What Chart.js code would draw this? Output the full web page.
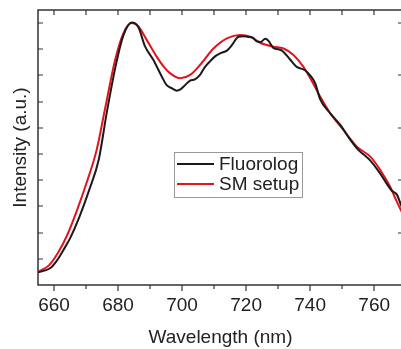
<!DOCTYPE html>
<html>
<head>
<meta charset="utf-8">
<script src="https://cdn.jsdelivr.net/npm/chart.js@4"></script>
<style>
  html, body { margin: 0; padding: 0; background: #fff; }
  #wrap { width: 401px; height: 349px; overflow: hidden; }
</style>
</head>
<body>
<div id="wrap"><canvas id="spectrumChart" width="410" height="349"></canvas></div>
<script>
// Данные спектров
const xTickValues = [660, 680, 700, 720, 740, 760];
const xMinorValues = [670, 690, 710, 730, 750];
const yTickValues = [1, 2, 3, 4, 5, 6, 7, 8, 9, 10];

const fluorologWl = [655, 657, 659, 661, 663, 665, 668, 671, 674, 676.5, 679.5, 681.7, 684.3, 686.3, 688.4, 691, 693.7, 695.2, 697, 698.3, 699.5, 700.5, 702.5, 704, 705.6, 707, 708.8, 710.5, 712, 714, 715.5, 717.6, 719, 720.7, 722, 723.3, 724.5, 726, 727, 728.5, 730, 731.2, 733.8, 735.8, 738.4, 740, 741.6, 743.1, 746.3, 749.4, 752.5, 755.1, 757, 758.8, 761.9, 764, 765.5, 767.1, 768.4, 769];
const fluorologInt = [0.48, 0.55, 0.66, 0.95, 1.35, 1.78, 2.62, 3.63, 4.8, 6.6, 8.5, 9.54, 10.02, 9.86, 9.12, 8.6, 7.95, 7.63, 7.5, 7.42, 7.47, 7.58, 7.8, 7.85, 8.02, 8.3, 8.55, 8.75, 8.85, 8.95, 9.15, 9.48, 9.5, 9.47, 9.45, 9.3, 9.28, 9.4, 9.32, 9.05, 9.0, 8.95, 8.6, 8.33, 8.2, 8.0, 7.7, 7.1, 6.55, 6.11, 5.55, 5.15, 4.95, 4.75, 4.25, 3.85, 3.6, 3.45, 3.05, 2.9];

const smWl = [655, 658.5, 661.2, 664.1, 667.2, 670.3, 673.3, 675.9, 679.1, 681.7, 684.3, 686.3, 689, 692.1, 694.5, 696.3, 699.4, 702.5, 705.6, 709.8, 714, 718.1, 721.3, 724.4, 728.5, 731.7, 734.8, 737.9, 740, 743.1, 746.3, 750.4, 754.6, 758.8, 761.9, 765, 767, 769];
const smInt = [0.5, 0.76, 1.22, 1.9, 2.86, 3.95, 5.15, 6.7, 8.6, 9.62, 10.0, 9.88, 9.35, 8.71, 8.3, 8.08, 7.89, 8.02, 8.4, 9.03, 9.42, 9.55, 9.48, 9.25, 9.1, 9.03, 8.78, 8.33, 7.9, 7.2, 6.55, 5.92, 5.28, 4.9, 4.39, 3.75, 3.2, 2.7];

const axisColor = '#333';
const textColor = '#222';
const fontFamily = '"Liberation Sans", Arial, sans-serif';

function toPoints(xs, ys) {
    return xs.map((x, i) => ({ x: x, y: ys[i] }));
}

// Рамка графика и засечки
const framePlugin = {
    id: 'frame',
    afterDatasetsDraw(chart) {
        const { ctx, chartArea: a, scales: { x, y } } = chart;
        ctx.save();
        ctx.strokeStyle = axisColor;
        ctx.lineWidth = 1.5;
        ctx.strokeRect(a.left, a.top, a.right - a.left, a.bottom - a.top);
        ctx.lineWidth = 1.2;
        ctx.beginPath();
        xTickValues.forEach(v => {
            const px = Math.round(x.getPixelForValue(v));
            ctx.moveTo(px, a.bottom); ctx.lineTo(px, a.bottom + 6);
            ctx.moveTo(px, a.top); ctx.lineTo(px, a.top + 5);
        });
        xMinorValues.forEach(v => {
            const px = Math.round(x.getPixelForValue(v));
            ctx.moveTo(px, a.bottom); ctx.lineTo(px, a.bottom + 4);
            ctx.moveTo(px, a.top); ctx.lineTo(px, a.top + 5);
        });
        yTickValues.forEach(v => {
            const py = Math.round(y.getPixelForValue(v));
            ctx.moveTo(a.left, py); ctx.lineTo(a.left + 5, py);
            if (v % 2 === 0) {
                ctx.moveTo(a.right, py); ctx.lineTo(a.right - 5, py);
            }
        });
        ctx.stroke();
        ctx.restore();
    }
};

// Легенда внутри области графика
const insideLegend = {
    id: 'insideLegend',
    afterDatasetsDraw(chart) {
        const ctx = chart.ctx;
        const box = { left: 174, top: 152, width: 128, height: 45 };
        ctx.save();
        ctx.fillStyle = '#fff';
        ctx.fillRect(box.left, box.top, box.width, box.height);
        ctx.strokeStyle = '#999';
        ctx.lineWidth = 1;
        ctx.strokeRect(box.left + 0.5, box.top + 0.5, box.width, box.height);
        ctx.font = '19px ' + fontFamily;
        ctx.textBaseline = 'middle';
        chart.data.datasets.forEach((ds, i) => {
            const cy = box.top + 12 + i * 20;
            ctx.strokeStyle = ds.borderColor;
            ctx.lineWidth = 2;
            ctx.beginPath();
            ctx.moveTo(box.left + 3, cy);
            ctx.lineTo(box.left + 40, cy);
            ctx.stroke();
            ctx.fillStyle = textColor;
            ctx.fillText(ds.label, box.left + 45, cy + 1);
        });
        ctx.restore();
    }
};

const ctx = document.getElementById('spectrumChart').getContext('2d');
new Chart(ctx, {
    type: 'line',
    data: {
        datasets: [{
            label: 'Fluorolog',
            data: toPoints(fluorologWl, fluorologInt),
            borderColor: '#1a1a1a',
            borderWidth: 2,
            pointRadius: 0,
            cubicInterpolationMode: 'monotone'
        }, {
            label: 'SM setup',
            data: toPoints(smWl, smInt),
            borderColor: '#e3121c',
            borderWidth: 2,
            pointRadius: 0,
            cubicInterpolationMode: 'monotone'
        }]
    },
    options: {
        responsive: false,
        animation: false,
        layout: { padding: { top: 10, right: 7, left: 0, bottom: 0 } },
        plugins: {
            legend: { display: false },
            tooltip: { enabled: false }
        },
        scales: {
            x: {
                type: 'linear',
                min: 655,
                max: 769,
                afterBuildTicks: s => { s.ticks = xTickValues.map(v => ({ value: v })); },
                afterFit: s => { s.height = 64; },
                grid: { display: false, drawTicks: false },
                border: { display: false },
                ticks: {
                    padding: 9,
                    color: textColor,
                    font: { family: fontFamily, size: 19 },
                    maxRotation: 0,
                    autoSkip: false
                },
                title: {
                    display: true,
                    text: 'Wavelength (nm)',
                    color: textColor,
                    font: { family: fontFamily, size: 19 },
                    padding: { top: 0, bottom: 0 }
                }
            },
            y: {
                min: 0,
                max: 10.5,
                afterFit: s => { s.width = 38; },
                grid: { display: false, drawTicks: false },
                border: { display: false },
                ticks: { display: false },
                title: {
                    display: true,
                    text: 'Intensity (a.u.)',
                    color: textColor,
                    font: { family: fontFamily, size: 19 },
                    padding: { top: 9, bottom: 0 }
                }
            }
        }
    },
    plugins: [framePlugin, insideLegend]
});
</script>
</body>
</html>
